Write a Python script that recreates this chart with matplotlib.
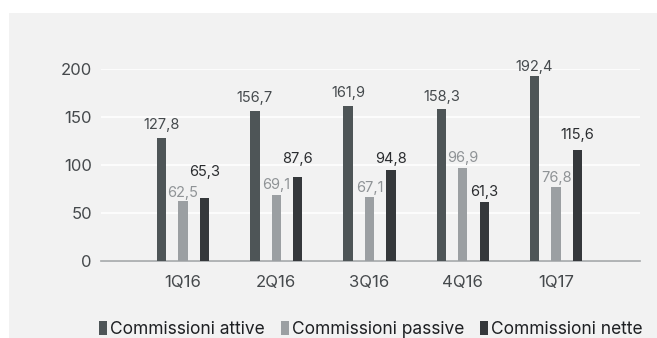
import matplotlib.pyplot as plt
import numpy as np
from matplotlib.patches import Rectangle

plt.rcParams['font.family'] = ['Inter', 'DejaVu Sans']

quarters = ['1Q16', '2Q16', '3Q16', '4Q16', '1Q17']
attive = [127.8, 156.7, 161.9, 158.3, 192.4]
passive = [62.5, 69.1, 67.1, 96.9, 76.8]
nette = [65.3, 87.6, 94.8, 61.3, 115.6]
series_names = ['Commissioni attive', 'Commissioni passive', 'Commissioni nette']

colors = ['#4e5557', '#9b9fa2', '#35383b']
label_colors = ['#454a4d', '#8f9396', '#2a2c2f']
# gap between bar top and label baseline, in pixels
label_gaps = [[9, 9, 9, 8, 5], [4, 6, 5, 6, 5], [22, 14, 7, 6, 11]]

fig = plt.figure(figsize=(6.57, 3.38), dpi=100)
fig.patch.set_facecolor('white')
fig.patches.append(Rectangle((9 / 657, 0), 1, 1 - 13 / 338, transform=fig.transFigure,
                             facecolor='#f2f2f2', edgecolor='none', zorder=-10))

ax = fig.add_axes([101 / 657, 77 / 338, 539 / 657, 192 / 338])
ax.set_facecolor('none')

x = np.arange(len(quarters))
offsets = [-0.23, 0.0, 0.23]
for vals, off, c, lc, gaps in zip([attive, passive, nette], offsets, colors, label_colors, label_gaps):
    bars = ax.bar(x + off, vals, width=0.1, color=c, zorder=3)
    for b, v, g in zip(bars, vals, gaps):
        ax.annotate(f'{v:.1f}'.replace('.', ','), (b.get_x() + b.get_width() / 2, v),
                    xytext=(0, g * 0.72), textcoords='offset points', ha='center', va='baseline',
                    fontsize=10.5, color=lc, zorder=4)

ax.set_xlim(-0.88, 4.9)
ax.set_ylim(0, 200)
ax.set_yticks([0, 50, 100, 150, 200])
ax.yaxis.grid(True, color='white', linewidth=1.2, zorder=0)
ax.set_axisbelow(True)
for s in ['top', 'right', 'left']:
    ax.spines[s].set_visible(False)
ax.spines['bottom'].set_color('#a5a8aa')
ax.spines['bottom'].set_linewidth(1.2)
ax.set_xticks(x)
ax.set_xticklabels(quarters)
ax.tick_params(axis='both', length=0, labelsize=12, colors='#45494c')
ax.tick_params(axis='x', pad=10)
ax.tick_params(axis='y', pad=6.5)

handles = [Rectangle((0, 0), 1, 1, facecolor=c, edgecolor='none') for c in colors]
fig.legend(handles, series_names, loc='lower left', bbox_to_anchor=(99 / 657, 0),
           ncol=3, frameon=False, fontsize=12.5, handlelength=0.46, handleheight=0.8,
           handletextpad=0.17, columnspacing=0.92, borderpad=0, borderaxespad=0,
           labelcolor='#1e2023')

fig.savefig('out.png', dpi=100, facecolor=fig.get_facecolor())
